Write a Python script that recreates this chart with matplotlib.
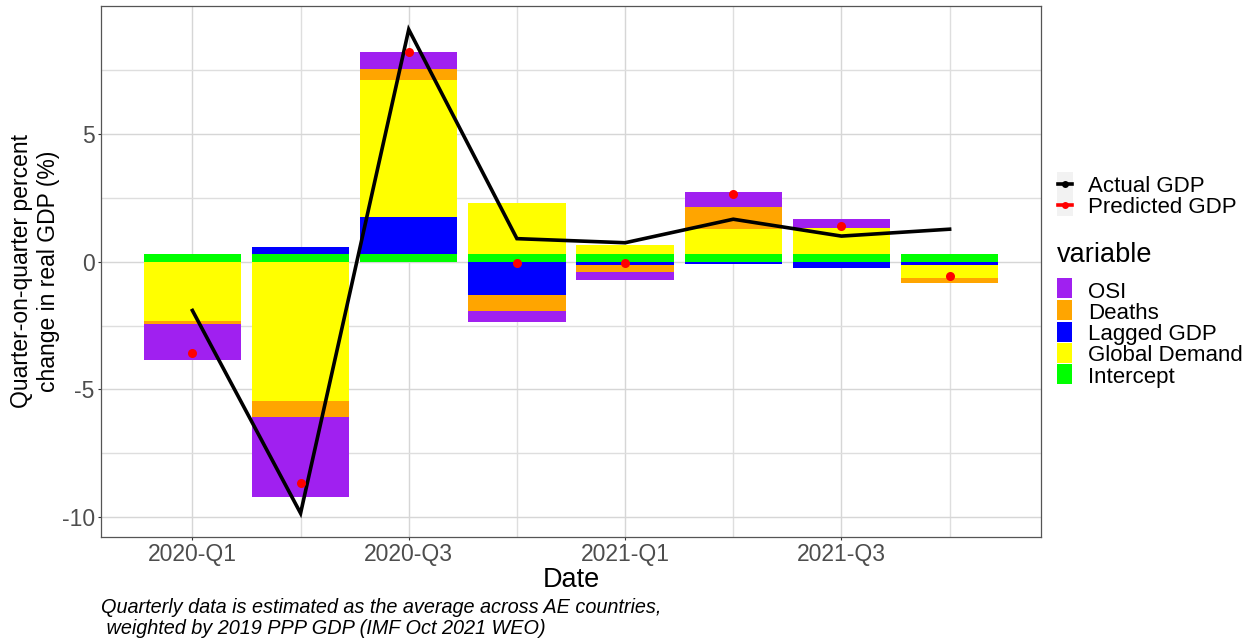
import numpy as np
import matplotlib.pyplot as plt
from matplotlib.patches import Rectangle
from matplotlib.lines import Line2D

plt.rcParams['font.family'] = ['Liberation Sans', 'DejaVu Sans']

# quarterly contributions to real GDP growth (pp)
quarters = ['2020-Q1', '2020-Q2', '2020-Q3', '2020-Q4',
            '2021-Q1', '2021-Q2', '2021-Q3', '2021-Q4']
intercept = [0.28, 0.28, 0.28, 0.28, 0.28, 0.28, 0.28, 0.28]
lagged_gdp = [0.0, 0.29, 1.45, -1.31, -0.12, -0.11, -0.24, -0.13]
global_demand = [-2.33, -5.44, 5.37, 2.03, 0.37, 1.00, 1.03, -0.49]
deaths = [-0.10, -0.63, 0.44, -0.63, -0.30, 0.84, 0.0, -0.20]
osi = [-1.41, -3.15, 0.66, -0.41, -0.31, 0.60, 0.34, 0.0]
actual_gdp = [-1.91, -9.84, 9.08, 0.90, 0.74, 1.66, 1.00, 1.27]
predicted_gdp = [-3.58, -8.67, 8.20, -0.04, -0.07, 2.63, 1.40, -0.55]
tick_quarters = ['2020-Q1', '2020-Q3', '2021-Q1', '2021-Q3']

# legend order (top to bottom); stacking goes the other way from zero
legend_vars = ['OSI', 'Deaths', 'Lagged GDP', 'Global Demand', 'Intercept']
colours = {'OSI': '#A020F0', 'Deaths': '#FFA500', 'Lagged GDP': '#0000FF',
           'Global Demand': '#FFFF00', 'Intercept': '#00FF00'}
stack_order = [('Intercept', intercept), ('Lagged GDP', lagged_gdp),
               ('Global Demand', global_demand), ('Deaths', deaths), ('OSI', osi)]

W, H = 1255, 644
fig = plt.figure(figsize=(W / 100, H / 100), dpi=100)


def fx(px):
    return px / W


def fy(py):
    return 1 - py / H


ax = fig.add_axes([fx(101), fy(537), fx(1041) - fx(101), fy(6) - fy(537)])

x = np.arange(len(quarters))
pos_base = np.zeros(len(quarters))
neg_base = np.zeros(len(quarters))
for name, vals in stack_order:
    vals = np.array(vals)
    base = np.where(vals >= 0, pos_base, neg_base)
    ax.bar(x, vals, bottom=base, width=0.9, color=colours[name], linewidth=0, zorder=2)
    pos_base = pos_base + np.where(vals >= 0, vals, 0)
    neg_base = neg_base + np.where(vals < 0, vals, 0)

ax.plot(x, actual_gdp, color='black', lw=2.6, zorder=3, solid_joinstyle='miter')
ax.plot(x, predicted_gdp, 'o', color='red', ms=6.5, mec='none', zorder=4)

ax.set_xlim(-0.845, len(quarters) - 1 + 0.845)
ax.set_ylim(-10.77, 10.0)
ax.set_xticks([quarters.index(q) for q in tick_quarters])
ax.set_xticklabels(tick_quarters)
ax.set_xticks([1, 3, 5, 7], minor=True)
ax.set_yticks([-10, -5, 0, 5])
ax.set_yticklabels(['-10', '-5', '0', '5'])
ax.set_yticks([-7.5, -2.5, 2.5, 7.5], minor=True)
ax.grid(which='major', color='#D6D6D6', lw=1.0, zorder=0)
ax.grid(which='minor', color='#DEDEDE', lw=1.0, zorder=0)
ax.set_axisbelow(True)
ax.tick_params(which='major', length=2.5, width=0.8, color='#333333',
               labelsize=16.5, labelcolor='#4D4D4D', pad=2)
ax.tick_params(which='minor', length=0)
for sp in ax.spines.values():
    sp.set_color('#555555')
    sp.set_linewidth(0.9)

fig.text(fx(571), fy(587), 'Date', ha='center', va='baseline', fontsize=19.5)
fig.text(fx(35), fy(271), 'Quarter-on-quarter percent\nchange in real GDP (%)',
         rotation=90, ha='center', va='center', multialignment='center',
         fontsize=16.5, linespacing=1.25)
fig.text(fx(101), fy(613), 'Quarterly data is estimated as the average across AE countries,',
         ha='left', va='baseline', fontsize=14.3, style='italic')
fig.text(fx(101), fy(634), ' weighted by 2019 PPP GDP (IMF Oct 2021 WEO)',
         ha='left', va='baseline', fontsize=14.3, style='italic')

# legend: GDP lines
fig.add_artist(Rectangle((fx(1057), fy(216)), fx(16), fy(172) - fy(216),
                         transform=fig.transFigure, facecolor='#F2F2F2', edgecolor='none'))
for yk, col, lab, yb in [(184, 'black', 'Actual GDP', 192), (205, 'red', 'Predicted GDP', 213)]:
    fig.add_artist(Line2D([fx(1058), fx(1072)], [fy(yk), fy(yk)], transform=fig.transFigure,
                          color=col, lw=2.6))
    fig.add_artist(Line2D([fx(1065)], [fy(yk)], transform=fig.transFigure, marker='o',
                          color=col, ms=5, mec='none'))
    fig.text(fx(1088), fy(yb), lab, ha='left', va='baseline', fontsize=16)

# legend: contributions
fig.text(fx(1057), fy(262), 'variable', ha='left', va='baseline', fontsize=19.5)
key_tops = [278, 300, 322, 343, 364]
text_bases = [298, 319, 340, 361, 383]
for name, top, base in zip(legend_vars, key_tops, text_bases):
    fig.add_artist(Rectangle((fx(1057), fy(top + 20)), fx(15), fy(top) - fy(top + 20),
                             transform=fig.transFigure, facecolor=colours[name],
                             edgecolor='none'))
    fig.text(fx(1088), fy(base), name, ha='left', va='baseline', fontsize=16)

fig.savefig('out.png', dpi=100)
